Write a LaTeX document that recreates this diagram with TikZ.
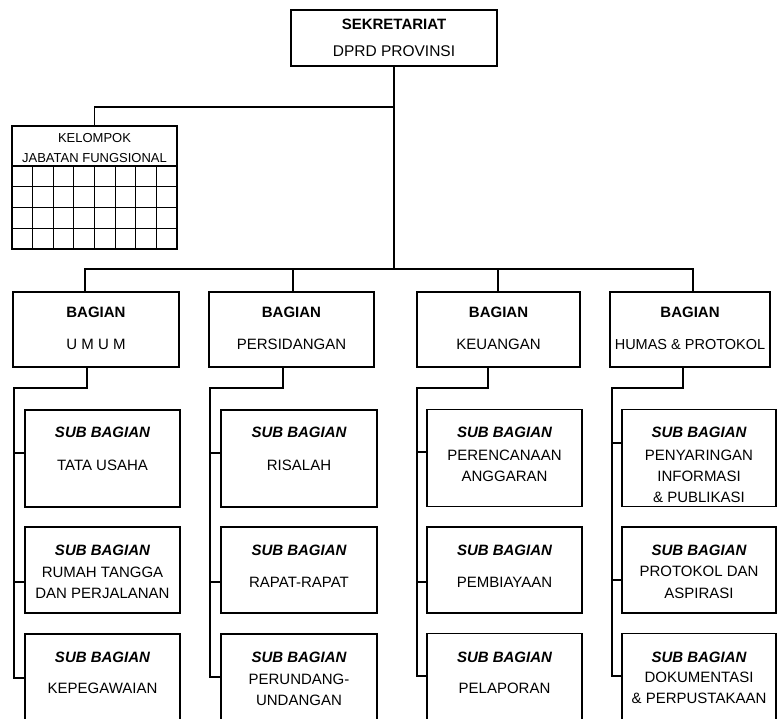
\documentclass[tikz,border=0pt]{standalone}
\usepackage{fontspec}
\setmainfont{Liberation Sans}
\usetikzlibrary{calc}
\begin{document}
\begin{tikzpicture}[x=1pt, y=-1pt, line width=1.1pt,
  box/.style={draw, rectangle, inner sep=0pt, outer sep=0pt},
  lbl/.style={inner sep=0pt, anchor=base},
  hbig/.style={lbl, font=\fontsize{15}{18}\selectfont\bfseries},
  hmid/.style={lbl, font=\fontsize{15.5}{18}\selectfont},
  ksm/.style={lbl, font=\fontsize{13}{15}\selectfont},
  bhead/.style={lbl, font=\fontsize{15}{17}\selectfont\bfseries},
  rtext/.style={lbl, font=\fontsize{15}{17}\selectfont},
  shead/.style={lbl, font=\fontsize{15}{17}\selectfont\bfseries\itshape},
  bagbox/.style={box, minimum height=75pt},
  r1/.style={box, minimum height=97pt},
  r2/.style={box, minimum height=86pt},
  r3/.style={box, minimum height=88pt}]
\useasboundingbox (0,0) rectangle (777,719);
\clip (0,0) rectangle (777,719);

% ---- top office ----
\node[box, minimum width=206pt, minimum height=56pt] (sek) at (394,38) {};
\node[hbig] (sekA) at (394,29.5) {SEKRETARIAT};
\node[hmid] (sekB) at (394,56.4) {DPRD PROVINSI};

% ---- functional group with grid ----
\node[box, minimum width=165pt, minimum height=123pt] (kjf) at (94.5,187.5) {};
\node[ksm] (kjfA) at (94.5,142.2) {KELOMPOK};
\node[ksm] (kjfB) at (94.5,162.2) {JABATAN FUNGSIONAL};
\draw ([yshift=-40pt]kjf.north west) -- ([yshift=-40pt]kjf.north east);
\foreach \j in {1,2,3}
  \draw ([yshift=-40pt-\j*20.75pt]kjf.north west) -- ([yshift=-40pt-\j*20.75pt]kjf.north east);
\foreach \i in {1,...,7}
  \draw ([xshift=\i*20.625pt, yshift=-40pt]kjf.north west) -- ([xshift=\i*20.625pt]kjf.south west);

% ---- departments ----
\node[bagbox, minimum width=166pt] (umum) at (96,329.5) {};
\node[bagbox, minimum width=165pt] (pers) at (291.5,329.5) {};
\node[bagbox, minimum width=163pt] (keu)  at (498.5,329.5) {};
\node[bagbox, minimum width=160pt] (humas) at (690,329.5) {};
\foreach \n/\x/\t in {umumA/96/{BAGIAN}, persA/291.5/{BAGIAN}, keuA/498.5/{BAGIAN}, humasA/690/{BAGIAN}}
  \node[bhead] (\n) at (\x,317.4) {\t};
\node[rtext] (umumB) at (96,349.2) {U M U M};
\node[rtext] (persB) at (291.5,349.2) {PERSIDANGAN};
\node[rtext] (keuB) at (498.5,349.2) {KEUANGAN};
\node[rtext, font=\fontsize{14.5}{17}\selectfont] (humasB) at (690,349.2) {HUMAS \& PROTOKOL};

% ---- trunk lines ----
\coordinate (tap) at (394,107);
\coordinate (bus) at (394,269);
\coordinate (dU) at ([xshift=-11pt]umum.north);
\coordinate (dP) at ([xshift=1.5pt]pers.north);
\coordinate (dK) at ([xshift=-0.5pt]keu.north);
\coordinate (dH) at ([xshift=3pt]humas.north);
\draw (sek.south) -- (bus);
\draw (kjf.north) |- (tap);
\draw (dU) |- (dH |- bus) -- (dH);
\draw (dP |- bus) -- (dP);
\draw (dK |- bus) -- (dK);

% ---- sub-sections: column 1 ----
\node[r1, minimum width=155pt] (s11) at (102.5,458.5) {};
\node[r2, minimum width=155pt] (s12) at (102.5,570) {};
\node[r3, minimum width=155pt] (s13) at (102.5,678) {};
% column 2
\node[r1, minimum width=156pt] (s21) at (299,458.5) {};
\node[r2, minimum width=156pt] (s22) at (299,570) {};
\node[r3, minimum width=156pt] (s23) at (299,678) {};
% column 3
\node[r1, minimum width=155pt] (s31) at (504.5,458) {};
\node[r2, minimum width=155pt] (s32) at (504.5,570) {};
\node[r3, minimum width=155pt] (s33) at (504.5,677.5) {};
% column 4
\node[r1, minimum width=154pt] (s41) at (699,458) {};
\node[r2, minimum width=154pt] (s42) at (699,570) {};
\node[r3, minimum width=154pt] (s43) at (699,677.5) {};

% sub-section headings
\foreach \c/\x in {1/102.5, 2/299, 3/504.5, 4/699} {
  \node[shead] (h\c a) at (\x,437.4) {SUB BAGIAN};
  \node[shead] (h\c b) at (\x,555.4) {SUB BAGIAN};
  \node[shead] (h\c c) at (\x,662.4) {SUB BAGIAN};
}

% sub-section names
\node[rtext] (t11) at (102.5,470.4) {TATA USAHA};
\node[rtext] (t12a) at (102.5,577.4) {RUMAH TANGGA};
\node[rtext] (t12b) at (102.5,598.4) {DAN PERJALANAN};
\node[rtext] (t13) at (102.5,693.4) {KEPEGAWAIAN};

\node[rtext] (t21) at (299,470.4) {RISALAH};
\node[rtext] (t22) at (299,587.4) {RAPAT-RAPAT};
\node[rtext] (t23a) at (299,684.4) {PERUNDANG-};
\node[rtext] (t23b) at (299,705.4) {UNDANGAN};

\node[rtext] (t31a) at (504.5,460.4) {PERENCANAAN};
\node[rtext] (t31b) at (504.5,481.4) {ANGGARAN};
\node[rtext] (t32) at (504.5,587.4) {PEMBIAYAAN};
\node[rtext] (t33) at (504.5,693.4) {PELAPORAN};

\node[rtext] (t41a) at (699,460.4) {PENYARINGAN};
\node[rtext] (t41b) at (699,481.4) {INFORMASI};
\node[rtext] (t41c) at (699,502.4) {\& PUBLIKASI};
\node[rtext] (t42a) at (699,576.4) {PROTOKOL DAN};
\node[rtext] (t42b) at (699,598.4) {ASPIRASI};
\node[rtext] (t43a) at (699,682.4) {DOKUMENTASI};
\node[rtext] (t43b) at (699,703.4) {\& PERPUSTAKAAN};

% ---- branch lines from each department to its sub-sections ----
\coordinate (k1) at (14,388);
\coordinate (k2) at (210,388);
\coordinate (k3) at (417,388);
\coordinate (k4) at (612,388);

\coordinate (b11) at ([yshift=5.5pt]s11.west);
\coordinate (b12) at ([yshift=-12pt]s12.west);
\coordinate (b21) at ([yshift=5.5pt]s21.west);
\coordinate (b22) at ([yshift=-12pt]s22.west);
\coordinate (b23) at ([yshift=1pt]s23.west);
\coordinate (b31) at ([yshift=6pt]s31.west);
\coordinate (b32) at ([yshift=-12pt]s32.west);
\coordinate (b33) at ([yshift=1.5pt]s33.west);
\coordinate (b41) at ([yshift=15pt]s41.west);
\coordinate (b42) at ([yshift=-10pt]s42.west);
\coordinate (b43) at ([yshift=1.5pt]s43.west);

\draw ([xshift=-9pt]umum.south) |- (k1) -- (k1 |- s13.west) -- (s13.west);
\draw (k1 |- b11) -- (b11);
\draw (k1 |- b12) -- (b12);

\draw ([xshift=-8.5pt]pers.south) |- (k2) -- (k2 |- b23) -- (b23);
\draw (k2 |- b21) -- (b21);
\draw (k2 |- b22) -- (b22);

\draw ([xshift=-10.5pt]keu.south) |- (k3) -- (k3 |- b33) -- (b33);
\draw (k3 |- b31) -- (b31);
\draw (k3 |- b32) -- (b32);

\draw ([xshift=-7pt]humas.south) |- (k4) -- (k4 |- b43) -- (b43);
\draw (k4 |- b41) -- (b41);
\draw (k4 |- b42) -- (b42);
\end{tikzpicture}
\end{document}
